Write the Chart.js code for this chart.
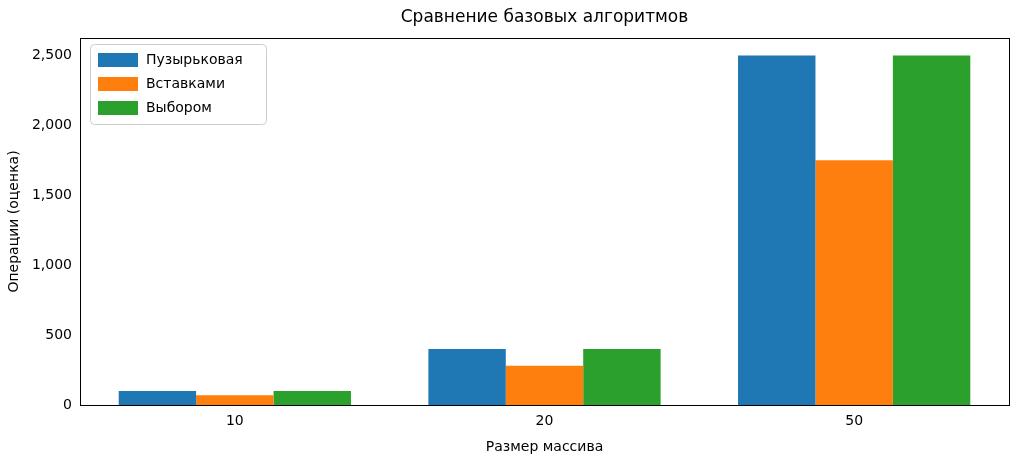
<!DOCTYPE html>
<html><head><meta charset="utf-8">
<script src="https://cdn.jsdelivr.net/npm/chart.js@4"></script>
<style>html,body{margin:0;background:#fff}#w{width:1024px;height:467px}</style>
</head><body><div id="w"><canvas id="c"></canvas></div>
<script>
const categories = ['10','20','50'];
const bubble = [100,400,2500];
const insertion = [70,280,1750];
const selection = [100,400,2500];
const seriesNames = ['Пузырьковая','Вставками','Выбором'];
const colors = ['#1f77b4','#ff7f0e','#2ca02c'];
const yTicks = [0,500,1000,1500,2000,2500];
const F = 'DejaVu Sans';

const deco = {
  id:'deco',
  afterDraw(ch){
    const c=ch.ctx, a=ch.chartArea;
    c.save();
    c.strokeStyle='#000';c.lineWidth=1;
    c.strokeRect(a.left+0.5,a.top+0.5,a.right-a.left,a.bottom-a.top);
    c.fillStyle='#000';c.textAlign='center';c.textBaseline='middle';
    c.font='17px "'+F+'"';c.fillText('Сравнение базовых алгоритмов',(a.left+a.right)/2,18);
    c.font='14px "'+F+'"';c.fillText('Размер массива',(a.left+a.right)/2,447);
    c.translate(14,(a.top+a.bottom)/2);c.rotate(-Math.PI/2);c.fillText('Операции (оценка)',0,0);
    c.restore();
    // legend
    c.save();
    const x=a.left+10,y=a.top+6,w=176,h=80;
    c.fillStyle='rgba(255,255,255,0.8)';c.strokeStyle='#ccc';c.lineWidth=1;
    c.beginPath();c.roundRect(x+0.5,y+0.5,w,h,4);c.fill();c.stroke();
    c.font='14px "'+F+'"';c.textBaseline='middle';c.textAlign='left';
    seriesNames.forEach((n,i)=>{
      const yy=y+16+i*24;
      c.fillStyle=colors[i];c.fillRect(x+8,yy-7,40,14);
      c.fillStyle='#000';c.fillText(n,x+56,yy);
    });
    c.restore();
  }
};

new Chart(document.getElementById('c'),{
  type:'bar',
  data:{labels:categories,datasets:[
    {label:seriesNames[0],data:bubble,backgroundColor:colors[0]},
    {label:seriesNames[1],data:insertion,backgroundColor:colors[1]},
    {label:seriesNames[2],data:selection,backgroundColor:colors[2]}]},
  options:{
    responsive:true,maintainAspectRatio:false,animation:false,
    layout:{padding:{top:38,right:15,left:0,bottom:0}},
    plugins:{legend:{display:false},tooltip:{enabled:false}},
    datasets:{bar:{categoryPercentage:0.75,barPercentage:1}},
    scales:{
      x:{grid:{display:false,drawTicks:true,tickLength:5,tickColor:'#000'},border:{display:false},
         ticks:{color:'#000',font:{family:F,size:14},padding:3},
         afterFit(s){s.height=62;}},
      y:{min:0,max:2625,grid:{display:false,drawTicks:true,tickLength:5,tickColor:'#000'},border:{display:false},
         afterBuildTicks(s){s.ticks=yTicks.map(v=>({value:v}));},
         ticks:{color:'#000',font:{family:F,size:14},padding:3},
         afterFit(s){s.width=80;}}
    }
  },
  plugins:[deco]
});
</script></body></html>
